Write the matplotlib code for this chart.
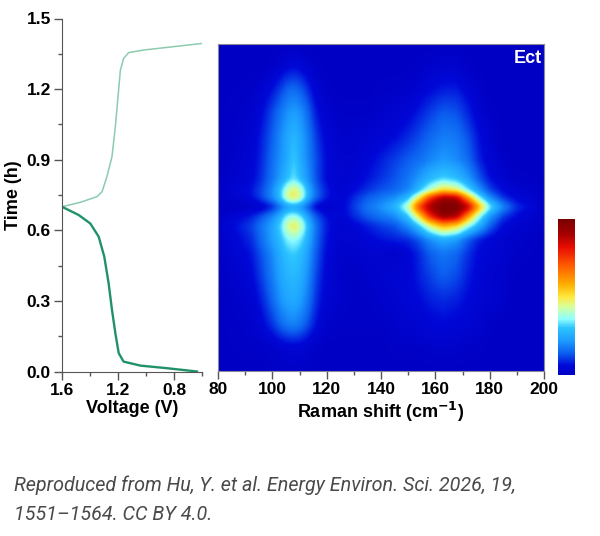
import matplotlib
matplotlib.use('Agg')
import matplotlib.pyplot as plt
from matplotlib.colors import LinearSegmentedColormap
import numpy as np

plt.rcParams['font.family'] = ['Liberation Sans', 'DejaVu Sans']

# voltage profile
discharge_v = [0.636, 0.85, 1.04, 1.16, 1.195, 1.219, 1.243, 1.267, 1.298, 1.338, 1.398, 1.481, 1.6]
discharge_t = [0.0, 0.014, 0.025, 0.042, 0.078, 0.163, 0.262, 0.375, 0.488, 0.573, 0.629, 0.665, 0.70]
charge_v = [1.6, 1.469, 1.35, 1.314, 1.279, 1.243, 1.219, 1.202, 1.183, 1.16, 1.124, 1.017, 0.6]
charge_t = [0.70, 0.719, 0.743, 0.764, 0.828, 0.913, 1.04, 1.153, 1.281, 1.33, 1.355, 1.366, 1.394]

# raman intensity, estimated at a coarse grid (0 = bottom of colour bar, 1 = top)
raman_x = [80, 92, 96, 100, 103, 105.5, 108, 110.5, 113, 116, 120, 125, 130, 135, 140, 145, 150, 154, 158, 163, 168, 172, 176, 180, 185, 190, 200]
raman_t = [0, 0.1, 0.2, 0.3, 0.4, 0.5, 0.56, 0.62, 0.66, 0.70, 0.74, 0.77, 0.82, 0.9, 1.0, 1.1, 1.2, 1.3, 1.39]
raman_z = [
    [.00, .00, .00, .01, .01, .01, .01, .01, .01, .01, .00, .00, .00, .00, .00, .00, .00, .00, .00, .00, .00, .00, .00, .00, .00, .00, .00],
    [.00, .01, .01, .02, .03, .04, .04, .04, .03, .01, .00, .00, .00, .00, .00, .01, .01, .01, .02, .02, .02, .01, .01, .00, .00, .00, .00],
    [.00, .02, .05, .10, .15, .18, .19, .17, .13, .07, .02, .01, .01, .01, .01, .02, .03, .04, .05, .06, .05, .04, .03, .01, .00, .00, .00],
    [.00, .03, .08, .15, .21, .24, .25, .23, .18, .10, .04, .02, .01, .01, .02, .03, .05, .06, .08, .09, .08, .06, .04, .03, .02, .00, .00],
    [.00, .05, .11, .18, .24, .27, .28, .26, .21, .12, .05, .02, .01, .02, .03, .04, .05, .08, .11, .14, .12, .08, .05, .03, .02, .00, .00],
    [.01, .07, .13, .20, .26, .30, .31, .29, .24, .14, .06, .02, .02, .03, .03, .02, .05, .09, .14, .17, .15, .10, .06, .04, .03, .01, .00],
    [.01, .09, .16, .23, .29, .35, .37, .34, .27, .16, .07, .03, .03, .05, .07, .08, .09, .13, .20, .25, .22, .14, .08, .05, .03, .02, .00],
    [.02, .11, .17, .24, .32, .44, .50, .43, .30, .17, .08, .03, .05, .08, .11, .13, .20, .30, .45, .58, .52, .38, .27, .15, .06, .03, .01],
    [.01, .08, .13, .20, .27, .36, .38, .34, .24, .14, .07, .04, .09, .14, .17, .20, .30, .50, .78, .95, .90, .62, .38, .22, .11, .06, .01],
    [.00, .01, .03, .08, .16, .22, .24, .21, .14, .05, .02, .04, .11, .17, .21, .28, .42, .75, .92, 1.0, 1.0, .90, .60, .36, .20, .10, .02],
    [.01, .06, .12, .20, .30, .45, .50, .43, .28, .16, .08, .04, .09, .14, .17, .20, .28, .48, .75, .92, .88, .60, .36, .20, .10, .05, .01],
    [.01, .07, .12, .20, .30, .42, .48, .42, .28, .16, .08, .03, .06, .10, .13, .15, .19, .28, .40, .52, .47, .34, .22, .12, .06, .03, .01],
    [.00, .05, .10, .17, .23, .29, .34, .28, .22, .13, .06, .03, .04, .07, .10, .13, .17, .22, .28, .32, .29, .23, .14, .07, .03, .01, .00],
    [.00, .04, .09, .16, .21, .25, .32, .25, .20, .13, .06, .03, .03, .05, .08, .11, .14, .16, .19, .22, .20, .16, .09, .04, .01, .00, .00],
    [.00, .03, .08, .14, .20, .24, .28, .24, .19, .11, .05, .02, .02, .03, .04, .06, .09, .12, .15, .18, .17, .13, .07, .03, .00, .00, .00],
    [.00, .02, .06, .12, .17, .21, .23, .21, .16, .08, .03, .01, .01, .01, .02, .03, .05, .08, .11, .14, .13, .09, .04, .01, .00, .00, .00],
    [.00, .01, .03, .07, .11, .15, .16, .14, .10, .04, .01, .00, .00, .00, .01, .01, .02, .04, .06, .08, .08, .05, .02, .00, .00, .00, .00],
    [.00, .00, .00, .01, .03, .05, .06, .05, .03, .01, .00, .00, .00, .00, .00, .00, .00, .01, .02, .03, .03, .01, .00, .00, .00, .00, .00],
    [.00, .00, .00, .00, .00, .00, .01, .00, .00, .00, .00, .00, .00, .00, .00, .00, .00, .00, .00, .00, .00, .00, .00, .00, .00, .00, .00],
]

jet_stops = [(0.0, '#0000c4'), (0.06, '#0008d8'), (0.14, '#0c60f0'), (0.22, '#1c9cff'),
             (0.30, '#2cc4ff'), (0.36, '#90ffff'), (0.44, '#d8ff98'), (0.50, '#ffe840'),
             (0.58, '#ffb000'), (0.70, '#ff5c00'), (0.82, '#e80c00'), (0.90, '#a80000'),
             (1.0, '#780000')]
cmap = LinearSegmentedColormap.from_list('raman', jet_stops)

W, H = 600, 536
fig = plt.figure(figsize=(W / 100, H / 100), dpi=100, facecolor='white')


def px_axes(x0, y0, x1, y1):
    return fig.add_axes([x0 / W, 1 - y1 / H, (x1 - x0) / W, (y1 - y0) / H])


# left panel
ax = px_axes(62, 18.5, 202, 371.5)
ax.plot(charge_v, charge_t, color='#8ccbae', lw=1.1)
ax.plot(discharge_v, discharge_t, color='#1f9268', lw=1.7)
ax.set_xlim(1.6, 0.6)
ax.set_ylim(0, 1.5)
ax.set_xticks([1.6, 1.2, 0.8])
ax.set_xticks([1.4, 1.0, 0.6], minor=True)
ax.set_yticks([0, 0.3, 0.6, 0.9, 1.2, 1.5])
ax.set_yticks([0.15, 0.45, 0.75, 1.05, 1.35], minor=True)
ax.set_xticklabels(['1.6', '1.2', '0.8'])
ax.set_yticklabels(['0.0', '0.3', '0.6', '0.9', '1.2', '1.5'])
ax.spines[['top', 'right']].set_visible(False)
ax.spines[['left', 'bottom']].set_color('#555555')
ax.tick_params(which='major', length=6, width=1, color='#555555', labelsize=12.5, pad=2)
ax.tick_params(which='minor', length=3, width=1, color='#555555')
for lab in ax.get_xticklabels() + ax.get_yticklabels():
    lab.set_fontweight('bold')
ax.set_xlabel('Voltage (V)', fontsize=13, fontweight='bold', labelpad=2)
ax.set_ylabel('Time (h)', fontsize=13, fontweight='bold', labelpad=3)

# heat map: the coarse table, resampled then softened a little
z = np.array(raman_z)
fine_x = np.linspace(80, 200, 330)
fine_t = np.linspace(0, 1.39, 330)
zx = np.array([np.interp(fine_x, raman_x, row) for row in z])
zf = np.array([np.interp(fine_t, raman_t, col) for col in zx.T]).T
kernel = np.exp(-np.arange(-8, 9) ** 2 / (2 * 2.5 ** 2))
kernel /= kernel.sum()
zf = np.apply_along_axis(lambda r: np.convolve(np.pad(r, 8, mode='edge'), kernel, 'valid'), 0, zf)
zf = np.apply_along_axis(lambda r: np.convolve(np.pad(r, 8, mode='edge'), kernel, 'valid'), 1, zf)

hm = px_axes(218, 44, 544, 371)
mesh = hm.pcolormesh(fine_x, fine_t, zf, cmap=cmap, vmin=0, vmax=1, shading='gouraud')
hm.set_xlim(80, 200)
hm.set_ylim(0, 1.39)
hm.set_xticks(np.arange(80, 201, 20))
hm.set_xticks(np.arange(90, 200, 20), minor=True)
hm.set_yticks([])
for s in hm.spines.values():
    s.set_color('#8a8a9a')
    s.set_linewidth(0.8)
hm.tick_params(which='major', length=6, width=1, color='#555555', labelsize=12.5, pad=2)
hm.tick_params(which='minor', length=3, width=1, color='#555555')
for lab in hm.get_xticklabels():
    lab.set_fontweight('bold')
hm.set_xlabel('Raman shift (cm$^{\\mathbf{-1}}$)', fontsize=13, fontweight='bold', labelpad=2)
hm.text(0.992, 0.957, 'Ect', transform=hm.transAxes, color='white', fontsize=13,
        fontweight='bold', ha='right', va='center')

# colour bar
cax = px_axes(557.5, 219, 574.5, 375)
cb = fig.colorbar(mesh, cax=cax)
cb.set_ticks([])
cb.outline.set_visible(False)

# caption
fig.text(14 / W, 1 - 485 / H, 'Reproduced from Hu, Y. et al. Energy Environ. Sci. 2026, 19,',
         family='Roboto', style='italic', fontsize=14.2, color='#4a4a4a', va='center')
fig.text(14 / W, 1 - 514 / H, '1551\u20131564. CC BY 4.0.',
         family='Roboto', style='italic', fontsize=14.2, color='#4a4a4a', va='center')

fig.savefig('out.png', dpi=100)
